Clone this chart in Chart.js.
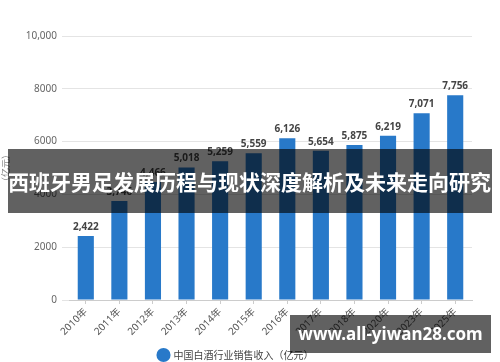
<!DOCTYPE html>
<html lang="zh">
<head>
    <meta charset="UTF-8">
    <title>中国白酒行业销售收入</title>
    <script src="https://cdn.jsdelivr.net/npm/chart.js"></script>
    <style>
        body {
            margin: 0;
            padding: 0;
            background: #fff;
            overflow: hidden;
        }

        .wrap {
            position: relative;
            width: 500px;
            height: 370px;
        }

        .banner {
            position: absolute;
            background: rgba(0, 0, 0, 0.62);
            color: #fff;
            font-family: "Noto Sans CJK SC", sans-serif;
            font-weight: bold;
            white-space: nowrap;
        }

        .title-banner {
            left: 8px;
            top: 149px;
            width: 484px;
            height: 64px;
            font-size: 21px;
            line-height: 64px;
            letter-spacing: 0px;
        }

        .site-banner {
            left: 290px;
            top: 315px;
            width: 201px;
            height: 38px;
            font-size: 17px;
            line-height: 38px;
            text-align: center;
            font-family: "Noto Sans", "DejaVu Sans", sans-serif;
        }
    </style>
</head>
<body>
    <div class="wrap">
        <canvas id="bar-chart"></canvas>
        <div class="banner title-banner">西班牙男足发展历程与现状深度解析及未来走向研究</div>
        <div class="banner site-banner">www.all-yiwan28.com</div>
    </div>

    <script>
        const years = ['2010年', '2011年', '2012年', '2013年', '2014年', '2015年',
                       '2016年', '2017年', '2018年', '2020年', '2023年', '2025年'];
        const revenue = [2422, 3746, 4466, 5018, 5259, 5559, 6126, 5654, 5875, 6219, 7071, 7756];
        const seriesName = '中国白酒行业销售收入（亿元）';
        const yTicks = [0, 2000, 4000, 6000, 8000, 10000];

        Chart.defaults.font.family = "'Noto Sans', 'Noto Sans CJK SC', sans-serif";

        // numbers above each bar
        const valueLabels = {
            id: 'valueLabels',
            afterDatasetsDraw(chart) {
                const ctx = chart.ctx;
                const meta = chart.getDatasetMeta(0);
                ctx.save();
                ctx.font = 'bold 10px "Noto Sans", sans-serif';
                ctx.fillStyle = '#444';
                ctx.textAlign = 'center';
                ctx.textBaseline = 'bottom';
                meta.data.forEach((bar, i) => {
                    ctx.fillText(revenue[i].toLocaleString('en-US'), bar.x, bar.y - 4);
                });
                ctx.restore();
            }
        };

        const ctx = document.getElementById('bar-chart').getContext('2d');
        new Chart(ctx, {
            type: 'bar',
            data: {
                labels: years,
                datasets: [{
                    label: seriesName,
                    data: revenue,
                    backgroundColor: '#2879c9',
                    borderWidth: 0,
                    barPercentage: 0.48,
                    categoryPercentage: 1
                }]
            },
            options: {
                responsive: true,
                maintainAspectRatio: false,
                animation: false,
                layout: {
                    padding: { top: 36, right: 28, left: 0, bottom: 0 }
                },
                plugins: {
                    tooltip: { enabled: false },
                    legend: {
                        position: 'bottom',
                        labels: {
                            usePointStyle: true,
                            pointStyle: 'circle',
                            boxWidth: 10,
                            padding: 8,
                            color: '#444',
                            font: { size: 10, family: "'Noto Sans CJK SC', sans-serif" }
                        }
                    }
                },
                scales: {
                    x: {
                        afterFit(scale) { scale.height = 42; },
                        grid: {
                            offset: false,
                            drawOnChartArea: false,
                            drawTicks: true,
                            tickLength: 4,
                            color: '#ccc'
                        },
                        border: { color: '#ccc' },
                        ticks: {
                            minRotation: 45,
                            maxRotation: 45,
                            color: '#555',
                            font: { size: 10 },
                            padding: 2
                        }
                    },
                    y: {
                        min: 0,
                        max: 10000,
                        afterFit(scale) { scale.width = 69; },
                        afterBuildTicks(scale) {
                            scale.ticks = yTicks.map(v => ({ value: v }));
                        },
                        grid: {
                            color: '#e4e4e4',
                            tickLength: 7
                        },
                        border: { display: false },
                        title: {
                            display: true,
                            text: '（亿元）',
                            color: '#888',
                            font: { size: 9, family: "'Noto Sans CJK SC', sans-serif" },
                            padding: 0
                        },
                        ticks: {
                            color: '#666',
                            font: { size: 10 },
                            padding: 5,
                            callback: v => v >= 10000 ? v.toLocaleString('en-US') : String(v)
                        }
                    }
                }
            },
            plugins: [valueLabels]
        });
    </script>
</body>
</html>
